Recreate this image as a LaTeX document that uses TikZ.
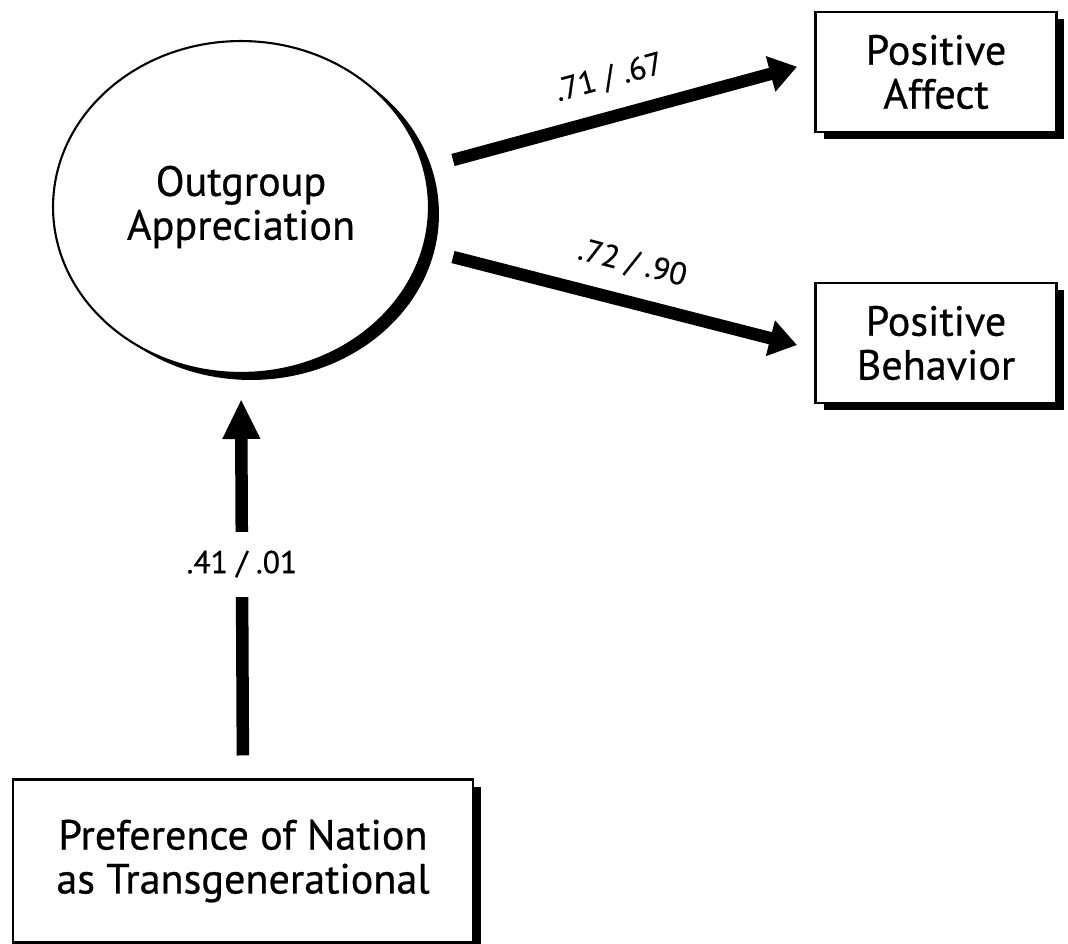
\documentclass[tikz,border=0pt]{standalone}
\usepackage{fontspec}
\setmainfont{PT Sans}[AutoFakeBold=0.6]
\usetikzlibrary{shapes.geometric,shadows,arrows.meta}

\tikzset{
  boxshadow/.style={drop shadow={shadow xshift=0.16cm, shadow yshift=-0.14cm, fill=black, opacity=1}},
  observed/.style={rectangle, draw, line width=1.2pt, fill=white, align=center,
    minimum width=4.82cm, minimum height=2.4cm,
    font=\fontsize{24}{25}\selectfont\bfseries, boxshadow},
  latent/.style={ellipse, draw, line width=1.2pt, fill=white, align=center,
    minimum width=7.52cm, minimum height=6.64cm,
    font=\fontsize{24}{25}\selectfont\bfseries,
    drop shadow={shadow xshift=0.2cm, shadow yshift=-0.14cm, fill=black, opacity=1}},
  effect/.style={draw, line width=0.25cm, -{Triangle[length=0.55cm, width=0.7cm]}},
  coeff/.style={font=\fontsize{18}{21}\selectfont\bfseries}
}

\begin{document}
\begin{tikzpicture}[x=0.02cm, y=-0.02cm]

      \useasboundingbox (0,0) rectangle (1068,943);

      \begin{scope}[every node/.style={observed}]
        \node (affect)   at (936,72)  {Positive\\Affect};
        \node (behavior) at (936,343) {Positive\\Behavior};
        \node (nation)   at (243,861) [minimum width=9.2cm, minimum height=3.26cm]
          {Preference of Nation\\as Transgenerational};
      \end{scope}

      \node[latent] (outgroup) at (241,207) {Outgroup\\Appreciation};

      \coordinate (out1) at (453,160);
      \coordinate (out2) at (453,257);

      \begin{scope}[every node/.style={coeff}]
        \path (out1) edge[effect, shorten >=0.36cm]
          node[sloped, above=0.25cm, pos=0.46] {.71 / .67} ([yshift=0.2cm]affect.west);
        \path (out2) edge[effect, shorten >=0.36cm]
          node[sloped, above=0.25cm, pos=0.47] {.72 / .90} ([yshift=-0.13cm]behavior.west);
        \path (nation.north) edge[effect, -{Triangle[length=0.8cm, width=0.7cm]},
            shorten <=0.46cm, shorten >=0.5cm]
          node[fill=white, minimum height=1.3cm, pos=0.53] {.41 / .01} (outgroup.south);
      \end{scope}

    \end{tikzpicture}
\end{document}
